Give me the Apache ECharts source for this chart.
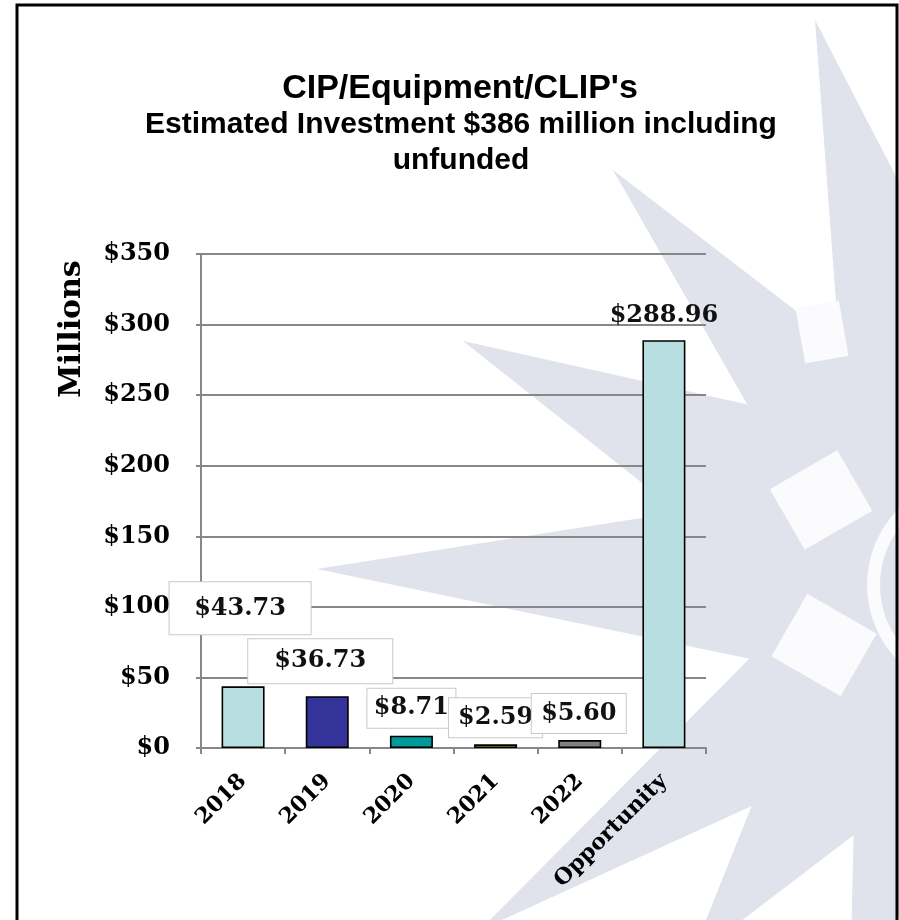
<!DOCTYPE html>
<html>
<head>
<meta charset="utf-8">
<script src="https://cdn.jsdelivr.net/npm/echarts@6/dist/echarts.min.js"></script>
<style>
  html, body { margin: 0; padding: 0; background: #ffffff; }
  #chart { width: 899px; height: 920px; }
</style>
</head>
<body>
<div id="chart"></div>
<script>
// ---- data ----
const categories = ['2018', '2019', '2020', '2021', '2022', 'Opportunity'];
const investment = [43.73, 36.73, 8.71, 2.59, 5.60, 288.96];
const barColors = ['#b7dfe2', '#333399', '#009999', '#99cc00', '#808080', '#b7dfe2'];
const axisMin = 0;
const axisMax = 350;
const axisStep = 50;

// ---- value callout boxes: [dx, dy, width, height]; null = plain text ----
const calloutBoxes = [
  [-3, -52, 141, 52],
  [-7, -13, 144, 44],
  [0, -8, 88, 39],
  [0, -7, 93, 39],
  [-1, -7, 94, 39],
  null
];

const SERIF = "'DejaVu Serif', Georgia, serif";
const SANS = "'Liberation Sans', Arial, sans-serif";
const GRID_GRAY = '#878787';

// ---- faint compass-rose backdrop ----
const WM = '#e0e2ec';
const hub = [975, 585];
const rays = [ // [tipX, tipY, halfWidth]
  [815, 20, 120],
  [905, 45, 60],
  [613, 170, 110],
  [463, 341, 130],
  [317, 569, 120],
  [480, 930, 110],
  [690, 960, 130],
  [850, 990, 120]
];
function backdrop() {
  const els = [];
  rays.forEach(function (r) {
    const dx = r[0] - hub[0], dy = r[1] - hub[1];
    const len = Math.sqrt(dx * dx + dy * dy);
    const px = -dy / len * r[2], py = dx / len * r[2];
    els.push({
      type: 'polygon', z: -100, silent: true,
      shape: { points: [[hub[0] + px, hub[1] + py], [r[0], r[1]], [hub[0] - px, hub[1] - py]] },
      style: { fill: WM }
    });
  });
  els.push({
    type: 'circle', z: -99, silent: true,
    shape: { cx: hub[0], cy: hub[1], r: 235 },
    style: { fill: WM }
  });
  els.push({
    type: 'ring', z: -98, silent: true,
    shape: { cx: hub[0], cy: hub[1], r: 108, r0: 95 },
    style: { fill: '#fbfbfd' }
  });
  const notches = [[821, 500, 78, 70, 30], [824, 645, 80, 72, -30], [822, 332, 44, 56, 10]];
  notches.forEach(function (n) {
    els.push({
      type: 'rect', z: -97, silent: true, x: n[0], y: n[1], rotation: n[4] * Math.PI / 180,
      shape: { x: -n[2] / 2, y: -n[3] / 2, width: n[2], height: n[3] },
      style: { fill: '#fbfbfd' }
    });
  });
  return els;
}

const chart = echarts.init(document.getElementById('chart'), null, { renderer: 'canvas' });

const seriesData = investment.map(function (v, i) {
  const box = calloutBoxes[i];
  const label = box ? {
    offset: [box[0], box[1]],
    width: box[2], height: box[3], lineHeight: box[3],
    padding: 0,
    backgroundColor: '#ffffff',
    borderColor: '#c9c9c9', borderWidth: 1
  } : { offset: [0, -12] };
  return { value: v, itemStyle: { color: barColors[i] }, label: label };
});

chart.setOption({
  backgroundColor: '#ffffff',
  animation: false,
  title: [
    {
      text: "CIP/Equipment/CLIP's",
      left: 460, top: 72, textAlign: 'center', padding: 0,
      textStyle: { fontFamily: SANS, fontWeight: 'bold', fontSize: 34, lineHeight: 34, color: '#000' }
    },
    {
      text: 'Estimated Investment $386 million including\nunfunded',
      left: 461, top: 107, textAlign: 'center', padding: 0,
      textStyle: { fontFamily: SANS, fontWeight: 'bold', fontSize: 30, lineHeight: 36, color: '#000' }
    }
  ],
  graphic: backdrop().concat([
    {
      type: 'text', x: 72, y: 329, rotation: Math.PI / 2, z: 10,
      style: {
        text: 'Millions', fontFamily: SERIF, fontWeight: 'bold', fontSize: 30,
        fill: '#000', align: 'center', verticalAlign: 'middle'
      }
    },
    {
      type: 'rect', z: 10, silent: true,
      shape: { x: 17, y: 5, width: 880, height: 940 },
      style: { fill: 'none', stroke: '#000', lineWidth: 3 }
    }
  ]),
  grid: { left: 201, right: 193, top: 254, bottom: 172, containLabel: false },
  xAxis: {
    type: 'category',
    data: categories,
    axisLine: { show: true, lineStyle: { color: GRID_GRAY, width: 2 } },
    axisTick: { show: true, length: 6, lineStyle: { color: GRID_GRAY, width: 2 } },
    axisLabel: {
      rotate: 45, margin: 30, interval: 0,
      fontFamily: SERIF, fontWeight: 'bold', fontSize: 22, color: '#000'
    }
  },
  yAxis: {
    type: 'value',
    min: axisMin, max: axisMax, interval: axisStep,
    axisLine: { show: true, lineStyle: { color: GRID_GRAY, width: 2 } },
    axisTick: { show: true, length: 5, lineStyle: { color: GRID_GRAY, width: 2 } },
    splitLine: { show: true, lineStyle: { color: GRID_GRAY, width: 2 } },
    axisLabel: {
      margin: 31,
      fontFamily: SERIF, fontWeight: 'bold', fontSize: 24, color: '#000',
      formatter: function (v) { return '$' + v; }
    }
  },
  series: [{
    type: 'bar',
    data: seriesData,
    barWidth: 43,
    itemStyle: { borderColor: '#000', borderWidth: 1.6 },
    label: {
      show: true, position: 'top', distance: 0,
      fontFamily: SERIF, fontWeight: 'bold', fontSize: 24, color: '#111',
      formatter: function (p) { return '$' + p.value.toFixed(2); }
    }
  }]
});
</script>
</body>
</html>
